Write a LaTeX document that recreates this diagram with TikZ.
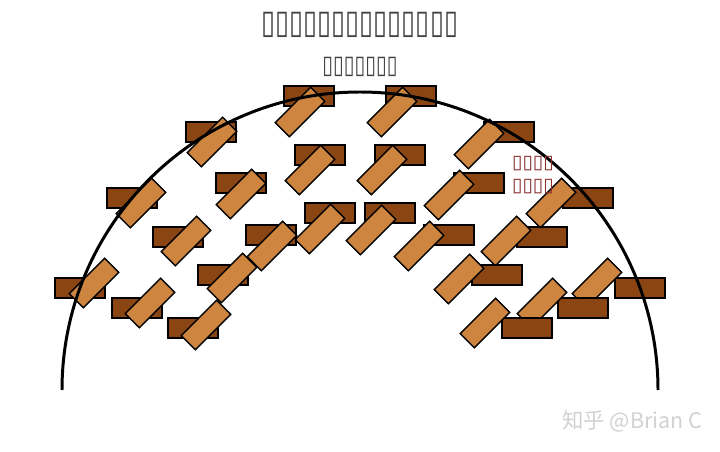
\documentclass[tikz,border=0pt]{standalone}
\usepackage{fontspec}
\usepackage{tikz}
\setmainfont{DejaVu Sans}
\newfontfamily\cjkfont{Noto Sans CJK SC}
\definecolor{brickDark}{HTML}{8B4513}
\definecolor{brickLight}{HTML}{CD853F}
\definecolor{labelRed}{HTML}{8B2E2E}
\definecolor{titleGray}{HTML}{404040}
\newcommand{\tallbox}[1]{\scalebox{1}[1.3]{#1}}

\begin{document}
\begin{tikzpicture}[
    x=0.02cm, y=-0.02cm,
    darkbrick/.style={draw, line width=0.8pt, fill=brickDark, minimum width=1cm, minimum height=0.4cm, inner sep=0pt},
    tiltbrick/.style={draw, line width=0.8pt, fill=brickLight, minimum width=1cm, minimum height=0.4cm, inner sep=0pt, rotate=45},
    dome/.style={line width=1.7pt},
    notetext/.style={text=labelRed, inner sep=0pt, font=\fontsize{10.8}{12}\selectfont}
]
    \useasboundingbox[fill=white] (0,0) rectangle (720,452);

    \node[text=titleGray, font=\fontsize{14.5}{16}\selectfont] (title) at (360,25) {\tallbox{▯▯▯▯▯▯▯▯▯▯▯▯▯▯}};
    \node[text=titleGray, font=\fontsize{11.1}{13}\selectfont] (subtitle) at (360,67) {\tallbox{▯▯▯▯▯▯▯}};

    % top row
    \node[darkbrick] (dark1) at (309,96) {};
    \node[tiltbrick] (tilt1) at (300,112) {};
    \node[darkbrick] (dark2) at (411,96) {};
    \node[tiltbrick] (tilt2) at (392,112) {};
    \node[darkbrick] (dark3) at (211,132) {};
    \node[tiltbrick] (tilt3) at (212,142) {};
    \node[darkbrick] (dark4) at (509,132) {};
    \node[tiltbrick] (tilt4) at (479,144) {};
    \node[darkbrick] (dark5) at (320,155) {};
    \node[tiltbrick] (tilt5) at (310,170) {};
    \node[darkbrick] (dark6) at (400,155) {};
    \node[tiltbrick] (tilt6) at (382,170) {};
    \node[darkbrick] (dark7) at (241,183) {};
    \node[tiltbrick] (tilt7) at (241,194) {};
    \node[darkbrick] (dark8) at (479,183) {};
    \node[tiltbrick] (tilt8) at (449,195) {};
    \node[darkbrick] (dark9) at (132,198) {};
    \node[tiltbrick] (tilt9) at (141,203) {};
    \node[darkbrick] (dark10) at (588,198) {};
    \node[tiltbrick] (tilt10) at (551,203) {};
    \node[darkbrick] (dark11) at (330,213) {};
    \node[tiltbrick] (tilt11) at (320,229) {};
    \node[darkbrick] (dark12) at (390,213) {};
    \node[tiltbrick] (tilt12) at (371,230) {};
    % middle rows
    \node[darkbrick] (dark13) at (178,237) {};
    \node[tiltbrick] (tilt13) at (186,241) {};
    \node[darkbrick] (dark14) at (271,235) {};
    \node[tiltbrick] (tilt14) at (272,246) {};
    \node[darkbrick] (dark15) at (449,235) {};
    \node[tiltbrick] (tilt15) at (419,246) {};
    \node[darkbrick] (dark16) at (542,237) {};
    \node[tiltbrick] (tilt16) at (506,241) {};
    \node[darkbrick] (dark17) at (223,275) {};
    \node[tiltbrick] (tilt17) at (232,278) {};
    \node[darkbrick] (dark18) at (497,275) {};
    \node[tiltbrick] (tilt18) at (459,279) {};
    % bottom rows
    \node[darkbrick] (dark19) at (80,288) {};
    \node[tiltbrick] (tilt19) at (94,283) {};
    \node[darkbrick] (dark20) at (640,288) {};
    \node[tiltbrick] (tilt20) at (597,283) {};
    \node[darkbrick] (dark21) at (137,308) {};
    \node[tiltbrick] (tilt21) at (150,303) {};
    \node[darkbrick] (dark22) at (583,308) {};
    \node[tiltbrick] (tilt22) at (542,303) {};
    \node[darkbrick] (dark23) at (193,328) {};
    \node[tiltbrick] (tilt23) at (206,325) {};
    \node[darkbrick] (dark24) at (527,328) {};
    \node[tiltbrick] (tilt24) at (485,323) {};

    \coordinate (domeL) at (62,390);
    \draw[dome] (domeL) arc[start angle=180, end angle=360, radius=298];

    \node[notetext] (note1) at (533,164) {▯▯▯▯};
    \node[notetext] (note2) at (533,187) {▯▯▯▯};
    \node[text=gray!35, font=\cjkfont\fontsize{12.2}{14}\selectfont] (mark) at (632,421) {知乎 @Brian C};
\end{tikzpicture}
\end{document}
